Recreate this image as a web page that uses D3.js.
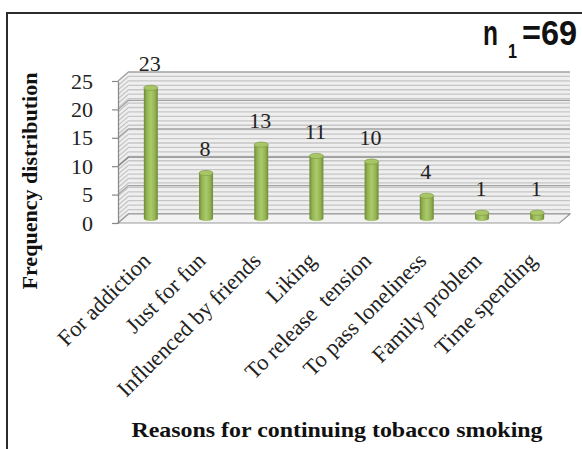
<!DOCTYPE html>
<html>
<head>
<meta charset="utf-8">
<script src="https://cdn.jsdelivr.net/npm/d3@7"></script>
<style>
  html, body { margin: 0; padding: 0; background: #fff; }
  svg { display: block; }
  .serif { font-family: "Liberation Serif", "Times New Roman", serif; }
</style>
</head>
<body>
<script>
// Reasons for continuing tobacco smoking (n1 = 69)
const categories = [
  "For addiction",
  "Just for fun",
  "Influenced by friends",
  "Liking",
  "To release  tension",
  "To pass loneliness",
  "Family problem",
  "Time spending"
];
const counts = [23, 8, 13, 11, 10, 4, 1, 1];
const yTicks = [0, 5, 10, 15, 20, 25];
const sampleBase = "n";
const sampleSub = "1";
const sampleRest = "=69";
const xTitle = "Reasons for continuing tobacco smoking";
const yTitle = "Frequency distribution";

const W = 582, H = 449;
const svg = d3.select("body").append("svg")
  .attr("width", W).attr("height", H);

// front-plane scales; the back wall is offset by (DX, DY) for the 3-D look
const x = d3.scaleBand().domain(categories).range([118, 559.5]).padding(0);
const y = d3.scaleLinear().domain([0, 25]).range([223, 81]);
const DX = 10.5, DY = -9;
const x0 = x.range()[0], x1 = x.range()[1];

// outer frame
svg.append("path")
  .attr("d", `M7,449 L7,13 L${W},13`)
  .attr("fill", "none").attr("stroke", "#2b2b2b").attr("stroke-width", 2);

const defs = svg.append("defs");
const grad = defs.append("linearGradient").attr("id", "barGrad")
  .attr("x1", "0%").attr("x2", "100%").attr("y1", "0%").attr("y2", "0%");
[["0%", "#6f8b37"], ["22%", "#94b554"], ["50%", "#abca6c"], ["78%", "#94b554"], ["100%", "#6f8b37"]]
  .forEach(([o, c]) => grad.append("stop").attr("offset", o).attr("stop-color", c));

// walls and floor
const wall = svg.append("g");
wall.append("polygon")
  .attr("points", [[x0 + DX, y(25) + DY], [x1 + DX, y(25) + DY], [x1 + DX, y(0) + DY], [x0 + DX, y(0) + DY]].join(" "))
  .attr("fill", "#efefef");
wall.append("polygon")
  .attr("points", [[x0, y(25)], [x0 + DX, y(25) + DY], [x0 + DX, y(0) + DY], [x0, y(0)]].join(" "))
  .attr("fill", "#efefef");

// fine stripes on the walls
const stripes = d3.range(0, 25, 25 / 32);
wall.selectAll("path.stripe").data(stripes).join("path")
  .attr("class", "stripe")
  .attr("d", v => `M${x0},${y(v)} L${x0 + DX},${y(v) + DY} L${x1 + DX},${y(v) + DY}`)
  .attr("fill", "none").attr("stroke", "#c6c6c6").attr("stroke-width", 1.3);

// major gridlines
wall.selectAll("path.grid").data(yTicks).join("path")
  .attr("class", "grid")
  .attr("d", v => `M${x0},${y(v)} L${x0 + DX},${y(v) + DY} L${x1 + DX},${y(v) + DY}`)
  .attr("fill", "none").attr("stroke", v => v === 10 ? "#858585" : "#a2a2a2").attr("stroke-width", 1.3);

// floor
wall.append("polygon")
  .attr("points", [[x0, y(0)], [x1, y(0)], [x1 + DX, y(0) + DY], [x0 + DX, y(0) + DY]].join(" "))
  .attr("fill", "#f2f2f2").attr("stroke", "#9a9a9a").attr("stroke-width", 1.2);

// y axis
const yAxis = svg.append("g")
  .attr("transform", `translate(${x0},0)`)
  .call(d3.axisLeft(y).tickValues(yTicks).tickSize(6).tickSizeOuter(0).tickPadding(19));
yAxis.selectAll("path, line").attr("stroke", "#888").attr("stroke-width", 1.2);
yAxis.selectAll("text")
  .attr("class", "serif")
  .style("font-size", "22px").attr("fill", "#222");

// cylinder-style bars
const barW = 14, capRy = 2.6;
const bars = svg.append("g");
const cx = d => x(d.cat) + x.bandwidth() / 2 + DX / 2;
const data = categories.map((c, i) => ({ cat: c, v: counts[i] }));
const bg = bars.selectAll("g").data(data).join("g");
bg.append("rect")
  .attr("x", d => cx(d) - barW / 2)
  .attr("y", d => y(d.v) + DY / 2)
  .attr("width", barW)
  .attr("height", d => y(0) - y(d.v))
  .attr("fill", "url(#barGrad)");
bg.append("ellipse")
  .attr("cx", cx).attr("cy", d => y(0) + DY / 2)
  .attr("rx", barW / 2).attr("ry", capRy)
  .attr("fill", "url(#barGrad)");
bg.append("ellipse")
  .attr("cx", cx).attr("cy", d => y(d.v) + DY / 2)
  .attr("rx", barW / 2).attr("ry", capRy)
  .attr("fill", "#a8c668").attr("stroke", "#84a246").attr("stroke-width", 0.8);

// value labels
svg.append("g").selectAll("text").data(data).join("text")
  .attr("class", "serif")
  .attr("x", d => cx(d) - 1)
  .attr("y", d => y(d.v) + DY / 2 - 17)
  .attr("text-anchor", "middle")
  .style("font-size", "22px").attr("fill", "#222")
  .text(d => d.v);

// category labels
svg.append("g").selectAll("text").data(data).join("text")
  .attr("class", "serif")
  .attr("text-anchor", "end")
  .attr("transform", d => `translate(${cx(d) + 1},262) rotate(-45)`)
  .style("font-size", "22.5px").style("white-space", "pre").attr("fill", "#222")
  .text(d => d.cat);

// axis titles
svg.append("text")
  .attr("class", "serif")
  .attr("x", 337).attr("y", 437)
  .attr("text-anchor", "middle")
  .attr("textLength", 411).attr("lengthAdjust", "spacingAndGlyphs")
  .style("font-size", "21.5px").style("font-weight", "bold").attr("fill", "#111")
  .text(xTitle);

svg.append("text")
  .attr("class", "serif")
  .attr("transform", "translate(37,181) rotate(-90)")
  .attr("text-anchor", "middle")
  .attr("textLength", 217).attr("lengthAdjust", "spacingAndGlyphs")
  .style("font-size", "20px").style("font-weight", "bold").attr("fill", "#111")
  .text(yTitle);

// sample size note
const note = svg.append("g")
  .style("font-family", "'Liberation Sans', Arial, sans-serif")
  .style("font-weight", "bold").attr("fill", "#111");
note.append("text").attr("x", 483).attr("y", 45)
  .attr("textLength", 15).attr("lengthAdjust", "spacingAndGlyphs")
  .style("font-size", "35px").text(sampleBase);
note.append("text").attr("x", 508).attr("y", 58)
  .attr("textLength", 9).attr("lengthAdjust", "spacingAndGlyphs")
  .style("font-size", "20px").text(sampleSub);
note.append("text").attr("x", 577).attr("y", 45).attr("text-anchor", "end")
  .attr("textLength", 55).attr("lengthAdjust", "spacingAndGlyphs")
  .style("font-size", "35px").text(sampleRest);
</script>
</body>
</html>
